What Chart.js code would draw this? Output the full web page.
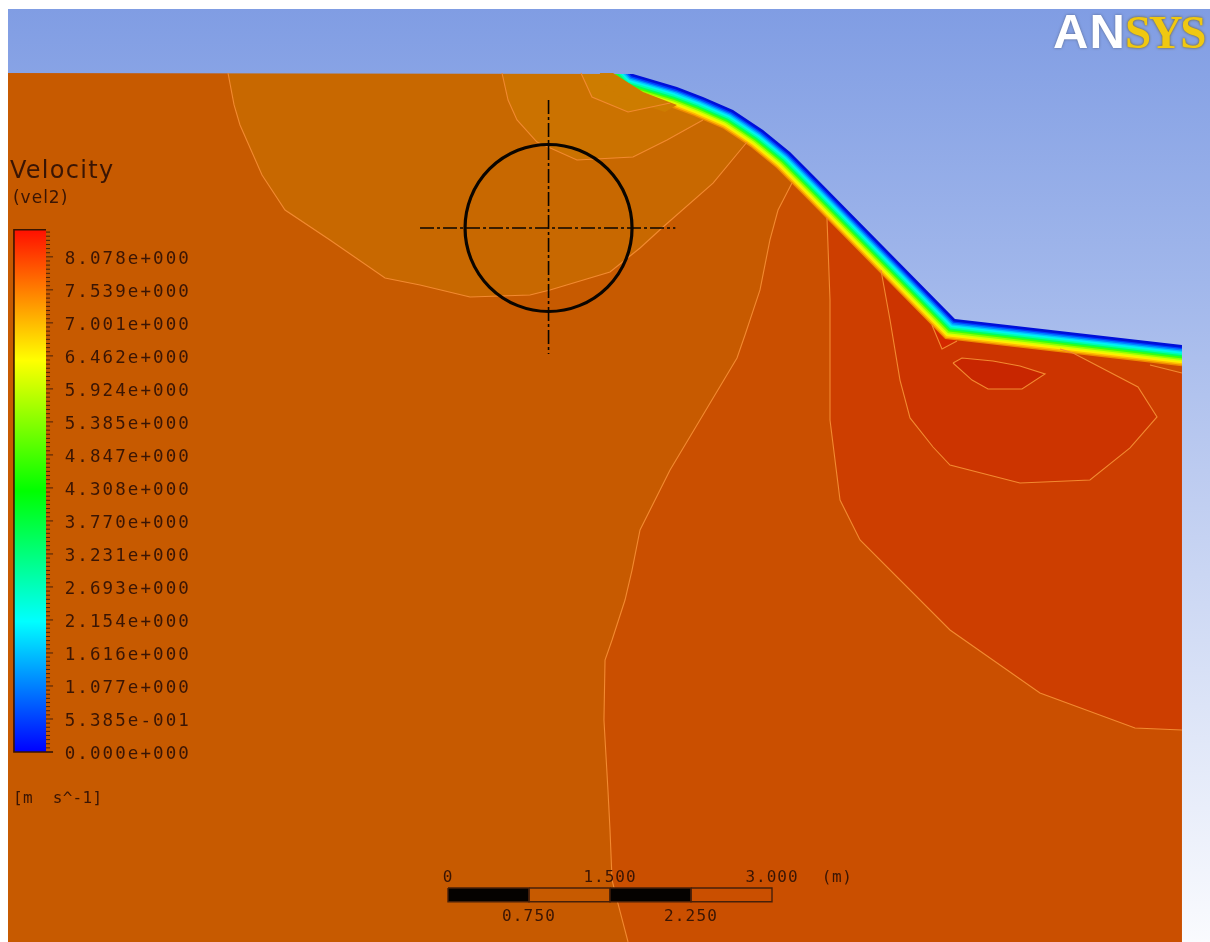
<!DOCTYPE html>
<html lang="en">
<head>
<meta charset="UTF-8">
<title>Velocity (vel2)</title>
<style>
    body { margin: 0; background: #fff; overflow: hidden; }
    canvas { display: block; filter: blur(0.6px); }
</style>
</head>
<body>
<canvas id="chart" width="1210" height="942"></canvas>
<script src="https://cdn.jsdelivr.net/npm/chart.js"></script>
<script>
// all geometry is in metres, x from the start of the scale bar, y from the bed crest line
const domainLeft = -4.074, domainRight = 7.1, domainBottom = -8.1, frameTop = 0.593;

// free surface (outer edge of the blue band)
const surfaceX = [1.713, 1.870, 2.120, 2.361, 2.639, 2.778, 2.917, 3.167, 3.315, 3.444, 4.694, 6.796];
const surfaceY = [-0.009, -0.056, -0.130, -0.222, -0.343, -0.435, -0.528, -0.731, -0.880, -1.009, -2.278, -2.519];

// velocity contour lines
const contour1X = [-2.037, -1.981, -1.926, -1.722, -1.509, -1.093, -0.583, -0.259, 0.204, 0.759, 0.944, 1.5, 1.778, 1.991, 2.454, 2.769];
const contour1Y = [0, -0.296, -0.481, -0.944, -1.269, -1.546, -1.898, -1.963, -2.074, -2.056, -2.009, -1.843, -1.620, -1.426, -1.019, -0.639];
const contour2X = [0.5, 0.556, 0.639, 0.824, 1.194, 1.713, 2.028, 2.361];
const contour2Y = [0, -0.25, -0.435, -0.639, -0.806, -0.778, -0.620, -0.435];
const contour3X = [1.231, 1.333, 1.667, 2.056];
const contour3Y = [0, -0.222, -0.361, -0.278];
const contour4X = [3.185, 3.056, 2.981, 2.889, 2.75, 2.676, 2.333, 2.056, 1.778, 1.704, 1.639, 1.519, 1.454, 1.444, 1.481, 1.5, 1.519, 1.565, 1.667];
const contour4Y = [-1.019, -1.269, -1.546, -2.009, -2.426, -2.639, -3.213, -3.676, -4.231, -4.602, -4.880, -5.250, -5.435, -5.991, -6.639, -7.009, -7.472, -7.657, -8.046];
const contour5X = [3.509, 3.537, 3.537, 3.630, 3.815, 4.648, 5.481, 6.361, 6.796];
const contour5Y = [-1.343, -2.102, -3.213, -3.954, -4.324, -5.157, -5.741, -6.065, -6.083];
const contour6X = [4.009, 4.093, 4.185, 4.278, 4.491, 4.648, 5.296, 5.944, 6.315, 6.565, 6.389, 5.787, 5.667];
const contour6Y = [-1.824, -2.287, -2.843, -3.194, -3.463, -3.630, -3.796, -3.769, -3.472, -3.185, -2.907, -2.593, -2.556];
const contour7X = [4.481, 4.574, 4.713];
const contour7Y = [-2.333, -2.556, -2.481];
const contour8X = [4.676, 4.759, 5.046, 5.296, 5.528, 5.315, 5, 4.852, 4.676];
const contour8Y = [-2.685, -2.639, -2.667, -2.713, -2.787, -2.926, -2.926, -2.843, -2.685];
const contour9X = [6.5, 6.796];
const contour9Y = [-2.704, -2.778];

// where the surface band thins out at the crest
const crestTipX = [1.407, 1.528, 1.806, 2.120, 2.009, 1.593, 1.407];
const crestTipY = [0, 0, -0.176, -0.296, -0.361, -0.222, -0.065];

// colour legend
const legendValues = [0, 0.5385, 1.077, 1.616, 2.154, 2.693, 3.231, 3.770, 4.308, 4.847, 5.385, 5.924, 6.462, 7.001, 7.539, 8.078];
const legendLabels = ['0.000e+000', '5.385e-001', '1.077e+000', '1.616e+000', '2.154e+000', '2.693e+000', '3.231e+000', '3.770e+000',
    '4.308e+000', '4.847e+000', '5.385e+000', '5.924e+000', '6.462e+000', '7.001e+000', '7.539e+000', '8.078e+000'];
const legendMax = 8.52;

// scale bar
const barEdges = [0, 0.75, 1.5, 2.25, 3];
const barUpperTicks = [0, 1.5, 3];
const barUpperLabels = ['0', '1.500', '3.000'];
const barLowerTicks = [0.75, 2.25];
const barLowerLabels = ['0.750', '2.250'];

// pipe section
const pipeCentre = { x: 0.931, y: -1.435 };
const pipeAxisH = [[-0.259, 2.105], [-1.435, -1.435]];
const pipeAxisV = [[0.931, 0.931], [-0.250, -2.602]];

// band colours from the water side up to the surface, half widths in px
const bandHalfWidths = [21, 19.6, 18, 16.4, 14.8, 13.2, 11.6, 10, 8.4, 6.8, 5.4, 4, 2.6];
const bandColors = ['#ee8a00', '#ffbb00', '#ffee00', '#d8ff00', '#90ff00', '#38ff10', '#00ff60', '#00ffb0', '#00f4f0', '#00c4ff', '#0084ff', '#0040ff', '#0010d8'];

const zip = (xs, ys) => xs.map((x, i) => ({ x, y: ys[i] }));
const brown = '#47200a';
const contourColor = '#f28a30';

const base = { type: 'scatter', showLine: true, pointRadius: 0, borderWidth: 0, xAxisID: 'x', yAxisID: 'y' };
const area = (data, color) => ({ ...base, data, fill: 'shape', backgroundColor: color });
const stroke = (data, color, width, extra) => ({ ...base, data, borderColor: color, borderWidth: width, ...extra });

const canvas = document.getElementById('chart');
const ctx2d = canvas.getContext('2d');
const skyGradient = ctx2d.createLinearGradient(0, 0, 0, 942);
skyGradient.addColorStop(0, '#7f9ce3');
skyGradient.addColorStop(0.3, '#a1b7eb');
skyGradient.addColorStop(0.5, '#bccbf0');
skyGradient.addColorStop(0.75, '#dce4f7');
skyGradient.addColorStop(1, '#fafbfe');

const rainbow = ctx2d.createLinearGradient(0, 752, 0, 230);
['#0000ff', '#00ffff', '#00ff00', '#ffff00', '#ff1000'].forEach((c, i) => rainbow.addColorStop(i / 4, c));

// paint order: first in this list ends up at the bottom
const painted = [];

// contour fills, each closed above the surface where the sky hides the closing edge
painted.push(area(zip([domainLeft, domainRight, domainRight, domainLeft], [0, 0, domainBottom, domainBottom]), '#c75a00'));
[
    [contour1X, contour1Y, [2.769, -2.037], [0.2, 0.2], '#c86800'],
    [contour2X, contour2Y, [2.361, 0.5], [0.2, 0.2], '#cb7200'],
    [contour3X, contour3Y, [2.056, 1.231], [0.2, 0.2], '#cd7c00'],
    [contour4X, contour4Y, [1.667, domainRight, domainRight, 3.185], [domainBottom, domainBottom, 0.2, 0.2], '#ca4f00'],
    [contour5X, contour5Y, [domainRight, domainRight, 3.509], [-6.083, 0.2, 0.2], '#cd3e00'],
    [contour6X, contour6Y, [5.667, 4.009], [-2.0, -1.0], '#cc3400'],
    [contour7X, contour7Y, [4.713, 4.481], [-1.9, -1.9], '#d42800'],
    [contour8X, contour8Y, [], [], '#c82600'],
    [contour9X, contour9Y, [domainRight, domainRight, 6.5], [-2.778, -2.0, -2.0], '#cc4800']
].forEach(([xs, ys, cx, cy, color]) => {
    painted.push(area(zip(xs.concat(cx), ys.concat(cy)), color));
});

// surface bands: nested strokes along the surface, the sky covers the upper half
const bandLine = zip([1.407].concat(surfaceX, [7.056]), [0.306].concat(surfaceY, [-2.546]));
bandHalfWidths.forEach((w, i) => {
    painted.push(stroke(bandLine, bandColors[i], w * 2, { borderJoinStyle: 'miter', borderCapStyle: 'butt' }));
});

painted.push(area(zip(
    [domainLeft, 7.1, 7.1, 6.796].concat(surfaceX.slice().reverse(), [domainLeft]),
    [frameTop, frameTop, domainBottom, domainBottom].concat(surfaceY.slice().reverse(), [0])
), skyGradient));
painted.push(area(zip(crestTipX, crestTipY), '#cd7c00'));

// contour lines on top
[[contour1X, contour1Y], [contour2X, contour2Y], [contour3X, contour3Y], [contour4X, contour4Y], [contour5X, contour5Y],
    [contour6X, contour6Y], [contour7X, contour7Y], [contour8X, contour8Y], [contour9X, contour9Y]].forEach(([xs, ys]) => {
    painted.push(stroke(zip(xs, ys), contourColor, 1.1));
});

// pipe circle and its centre lines
painted.push(stroke(zip(pipeAxisH[0], pipeAxisH[1]), '#0a0500', 1.6, { borderDash: [14, 3, 3, 3] }));
painted.push(stroke(zip(pipeAxisV[0], pipeAxisV[1]), '#0a0500', 1.6, { borderDash: [14, 3, 3, 3] }));
painted.push({ ...base, showLine: false, data: [pipeCentre], pointRadius: 83.5, pointBorderWidth: 3.2, pointBorderColor: '#0a0500', pointBackgroundColor: 'transparent' });

// legend bar on the velocity axis
painted.push({ ...base, yAxisID: 'vel', data: zip([-4.019, -3.722, -3.722, -4.019], [0, 0, legendMax, legendMax]), fill: 'shape', backgroundColor: rainbow });
painted.push({ ...base, yAxisID: 'vel', data: zip([-3.722, -4.019, -4.019, -3.657], [legendMax, legendMax, 0, 0]), borderColor: '#3a1500', borderWidth: 1.6 });
const tickMarks = [];
for (let k = 0; k < 8 * 16; k++) {
    const v = k * 0.5385 / 8;
    if (v > legendMax) break;
    tickMarks.push({ x: -3.722, y: v }, { x: k % 8 === 0 ? -3.657 : -3.685, y: v }, { x: -3.722, y: null });
}
painted.push({ ...base, yAxisID: 'vel', data: tickMarks, borderColor: brown, borderWidth: 1, spanGaps: false });

// scale bar
barEdges.slice(0, -1).forEach((edge, i) => {
    const xs = [edge, barEdges[i + 1], barEdges[i + 1], edge, edge];
    const ys = [-7.546, -7.546, -7.673, -7.673, -7.546];
    painted.push({ ...base, data: zip(xs, ys), fill: i % 2 === 0 ? 'shape' : false, backgroundColor: '#050200', borderColor: brown, borderWidth: 1.4 });
});

const textColor = '#3a1504';
const mono = '"DejaVu Sans Mono"';
const texts = [
    { text: 'Velocity', x: -4.056, y: -0.972, font: '24px "DejaVu Sans"', spacing: 1.3 },
    { text: '(vel2)', x: -4.028, y: -1.204, font: '17px "DejaVu Sans"', spacing: 1 },
    { text: '[m  s^-1]', x: -4.028, y: -6.759, font: '16px ' + mono, spacing: 0.3 },
    { text: '(m)', x: 3.602, y: -7.491, font: '16px ' + mono, spacing: 0.6, align: 'center' },
    { text: 'AN', x: 5.602, y: 0.231, font: 'bold 49px "Liberation Sans"', spacing: 1, color: '#ffffff', shadow: '#5a6a90' },
    { text: 'SYS', x: 6.269, y: 0.231, font: 'bold 47px "Liberation Serif"', spacing: -2.5, color: '#f0c810', shadow: '#6a5a20' }
];
barUpperTicks.forEach((v, i) => texts.push({ text: barUpperLabels[i], x: v, y: -7.491, font: '16px ' + mono, spacing: 1, align: 'center' }));
barLowerTicks.forEach((v, i) => texts.push({ text: barLowerLabels[i], x: v, y: -7.852, font: '16px ' + mono, spacing: 1.2, align: 'center' }));

const textPlugin = {
    id: 'plotTexts',
    afterDatasetsDraw(chart) {
        const { ctx, scales } = chart;
        ctx.save();
        ctx.textBaseline = 'alphabetic';
        texts.forEach(t => {
            ctx.font = t.font;
            ctx.letterSpacing = t.spacing + 'px';
            ctx.textAlign = t.align || 'left';
            ctx.fillStyle = t.color || textColor;
            ctx.shadowColor = t.shadow || 'transparent';
            ctx.shadowBlur = t.shadow ? 3 : 0;
            ctx.fillText(t.text, scales.x.getPixelForValue(t.x), scales.y.getPixelForValue(t.y));
        });
        // legend tick labels sit on the velocity scale
        ctx.font = '17.5px ' + mono;
        ctx.letterSpacing = '2.1px';
        ctx.textAlign = 'right';
        ctx.fillStyle = textColor;
        ctx.shadowColor = 'transparent';
        legendValues.forEach((v, i) => {
            ctx.fillText(legendLabels[i], scales.x.getPixelForValue(-2.389) + 1, scales.vel.getPixelForValue(v) + 7);
        });
        ctx.restore();
    }
};

new Chart(canvas, {
    type: 'scatter',
    data: { datasets: painted.reverse() },
    plugins: [textPlugin],
    options: {
        responsive: false,
        animation: false,
        events: [],
        layout: { padding: 0, autoPadding: false },
        plugins: { legend: { display: false }, tooltip: { enabled: false } },
        scales: {
            x: { type: 'linear', display: false, min: -448 / 108, max: 762 / 108 },
            y: { type: 'linear', display: false, min: -869 / 108, max: 73 / 108 },
            vel: { type: 'linear', display: false, min: -190 / 61.3, max: 752 / 61.3 }
        }
    }
});
</script>
</body>
</html>
